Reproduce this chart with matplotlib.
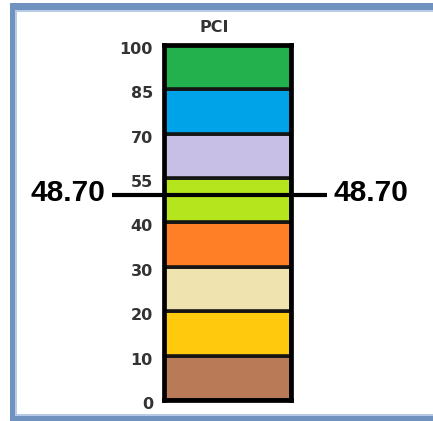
import numpy as np
import matplotlib
matplotlib.use("Agg")
import matplotlib.pyplot as plt
from matplotlib.patches import Rectangle
from matplotlib.transforms import ScaledTranslation

# PCI rating bands (lower/upper limits) and their fill colours
bounds = [0, 10, 20, 30, 40, 55, 70, 85, 100]
band_colors = ["#B97A57", "#FFC90E", "#EFE4B0", "#FF7F27",
               "#B5E61D", "#C8BFE7", "#00A2E8", "#22B14C"]
tick_labels = ["0", "10", "20", "30", "40", "55", "70", "85", "100"]
pci_value = 48.70

W, H = 433, 421
fig = plt.figure(figsize=(W / 100, H / 100), dpi=100)
fig.patch.set_facecolor("white")

# frame around the panel (top, left and bottom edges)
frame_dark = "#7092BE"
frame_light = "#B7CAE6"
def px_rect(x0, y0, x1, y1, color):
    fig.add_artist(Rectangle((x0 / W, 1 - y1 / H), (x1 - x0) / W, (y1 - y0) / H,
                             transform=fig.transFigure, facecolor=color,
                             edgecolor="none", zorder=0))
px_rect(10, 3, W, 10, frame_dark)
px_rect(10, 10, W, 12, frame_light)
px_rect(10, 3, 15, H, frame_dark)
px_rect(15, 10, 17, 415, frame_light)
px_rect(10, 416, W, H, frame_dark)
px_rect(15, 414, W, 416, frame_light)

# axes holding the scale bar
x0, x1 = 164, 291
y_top, y_bot = 45, 400
ax = fig.add_axes([x0 / W, 1 - y_bot / H, (x1 - x0) / W, (y_bot - y_top) / H])

# each rating band gets the same height on the bar
idx = np.arange(len(bounds), dtype=float)
fwd = lambda v: np.interp(v, bounds, idx)
inv = lambda i: np.interp(i, idx, bounds)
ax.set_yscale("function", functions=(fwd, inv))
ax.set_ylim(0, 100)
ax.set_xlim(0, 1)

lows = bounds[:-1]
highs = bounds[1:]
ax.bar([0.5] * len(lows), np.subtract(highs, lows), bottom=lows, width=1.0,
       color=band_colors, edgecolor="#151515", linewidth=2.6, zorder=2)

for s in ax.spines.values():
    s.set_color("black")
    s.set_linewidth(3.4)
    s.set_zorder(5)

ax.set_xticks([])
ax.set_yticks(bounds)
ax.set_yticklabels(tick_labels)
ax.yaxis.set_minor_locator(plt.NullLocator())
ax.tick_params(axis="y", length=0, pad=8, labelsize=11.5, labelcolor="#333333")
for lab in ax.get_yticklabels():
    lab.set_fontfamily("DejaVu Sans")
    lab.set_fontweight("bold")
    lab.set_transform(lab.get_transform() + ScaledTranslation(0, -3 / 100, fig.dpi_scale_trans))

# current PCI marker across the bar
tr = ax.get_yaxis_transform()
line_off = ScaledTranslation(0, 2 / 100, fig.dpi_scale_trans)
ax.plot([(112 - x0) / (x1 - x0), (327 - x0) / (x1 - x0)], [pci_value, pci_value],
        transform=tr + line_off, color="black", linewidth=3.0, clip_on=False,
        zorder=6, solid_capstyle="butt")
lbl = f"{pci_value:.2f}"
off = ScaledTranslation(0, 4 / 100, fig.dpi_scale_trans)
ax.text((105 - x0) / (x1 - x0), pci_value, lbl, transform=tr + off,
        ha="right", va="center", fontsize=21.5, fontweight="bold",
        family="Liberation Sans", color="black", clip_on=False)
ax.text((334 - x0) / (x1 - x0), pci_value, lbl, transform=tr + off,
        ha="left", va="center", fontsize=21.5, fontweight="bold",
        family="Liberation Sans", color="black", clip_on=False)

fig.text(214.5 / W, 1 - 28 / H, "PCI", ha="center", va="center", fontsize=11.5,
         fontweight="bold", family="DejaVu Sans", color="#333333")

fig.savefig("out.png", dpi=100)
